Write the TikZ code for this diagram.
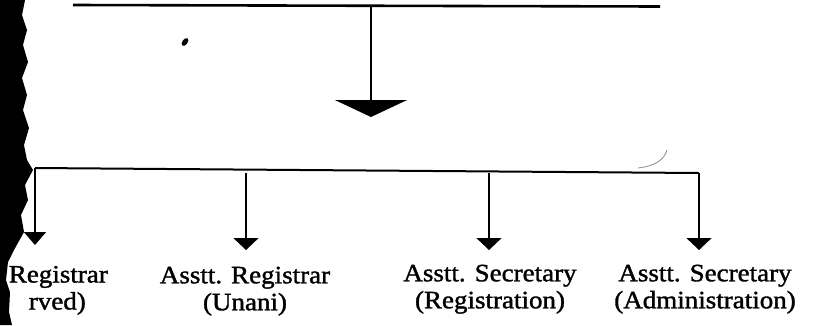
\documentclass[tikz,border=0pt]{standalone}
\usepackage{fontspec}
\setmainfont{Liberation Serif}[FakeStretch=1.08,FakeBold=1.4]
\usetikzlibrary{arrows.meta,positioning}
\tikzset{
	post/.style={font=\fontsize{25}{27}\selectfont, align=center, inner sep=0pt, anchor=north},
	cut/.style={font=\fontsize{25}{27}\selectfont, inner sep=0pt, anchor=base east},
	bar/.style={line width=2.6pt},
	lowbar/.style={line width=2pt},
	drop/.style={line width=1.6pt, -{Triangle[width=25pt,length=12pt]}},
	mainarrow/.style={line width=2pt, -{Triangle[width=72pt,length=17pt]}}
}

\begin{document}
\begin{tikzpicture}[x=1pt,y=-1pt]
	\useasboundingbox (0,0) rectangle (813,325);
	% marks of the scan
	\fill (0,0) -- (25,0) -- (22,15) -- (27,30) -- (23,45) -- (28,62) -- (22,78) -- (27,95)
		-- (23,110) -- (29,128) -- (24,145) -- (27,160) -- (33,170) -- (25,185) -- (28,200)
		-- (21,215) -- (24,232) -- (14,250) -- (8,262) -- (6,280) -- (10,292) -- (9,312)
		-- (12,325) -- (0,325) -- cycle;
	\fill[rotate around={-35:(185,42)}] (185,42) ellipse (2.6pt and 4.5pt);
	\draw[black!45, line width=0.8pt] (638,168) .. controls (655,166) and (664,160) .. (667,150);
	% upper bar and the main arrow
	\coordinate (top_l) at (73,5);
	\coordinate (top_r) at (660,6.5);
	\coordinate (top_m) at (371,6);
	\coordinate (main_tip) at (371,117);
	\draw[bar] (top_l) -- (top_r);
	\draw[mainarrow] (top_m) -- (main_tip);
	% lower bar
	\coordinate (low_l) at (35,168);
	\coordinate (low_r) at (699,173);
	\coordinate (b_unani) at (246,172.5);
	\coordinate (b_regn) at (489,173);
	\draw[lowbar] (low_l) -- (low_r);
	% posts
	\node[cut] at (108,282.5) (reserved)   {Registrar};
	\node[cut] at (86,309.5)  (reserved_b) {rved)};
	\node[post] at (245,266.5) (unani) {Asstt. Registrar\\(Unani)};
	\node[post] at (490,264.5) (regn)  {Asstt. Secretary\\(Registration)};
	\node[post] at (705,264.5) (admn)  {Asstt. Secretary\\(Administration)};
	\coordinate (t_reserved) at (35,245);
	\coordinate (t_unani) at (246,250);
	\coordinate (t_regn) at (489,250);
	\coordinate (t_admn) at (699,250);
	\draw[drop, -{Triangle[width=22pt,length=13pt]}] (low_l) -- (t_reserved);
	\draw[drop] (b_unani) -- (t_unani);
	\draw[drop] (b_regn) -- (t_regn);
	\draw[drop] (low_r) -- (t_admn);
\end{tikzpicture}
\end{document}
